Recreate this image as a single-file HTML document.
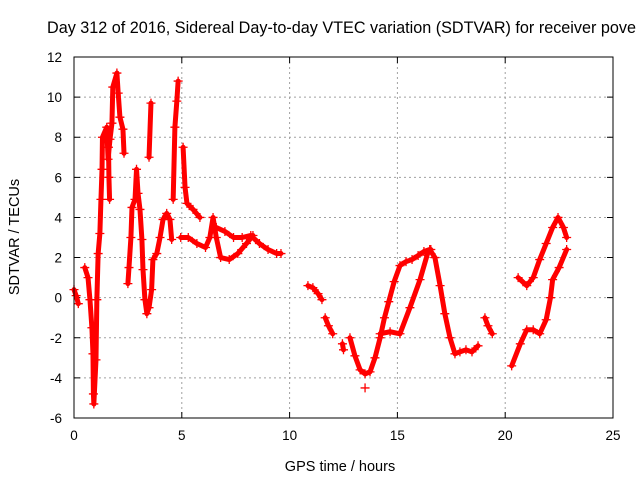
<!DOCTYPE html>
<html><head><meta charset="utf-8"><style>
body{margin:0;background:#fff;}
svg{display:block;font-family:"Liberation Sans",sans-serif;}
</style></head><body>
<svg id="chart" width="640" height="480" viewBox="0 0 640 480" xmlns="http://www.w3.org/2000/svg">
<rect width="640" height="480" fill="#fff"/>
<text x="47" y="33" font-size="16.2">Day 312 of 2016, Sidereal Day-to-day VTEC variation (SDTVAR) for receiver pove</text>
<g id="grid"></g><g id="ticks"></g><g id="marks"></g>
<rect x="74" y="57" width="539" height="361" fill="none" stroke="#000" stroke-width="1"/>
<text transform="translate(19,237) rotate(-90)" text-anchor="middle" font-size="14.5">SDTVAR / TECUs</text>
<text x="340" y="471" text-anchor="middle" font-size="14.5">GPS time / hours</text>
</svg>
<script>
const xTicks=[0,5,10,15,20,25];
const yTicks=[-6,-4,-2,0,2,4,6,8,10,12];
const segTimes=[
[0,0.1,0.2],
[0.5,0.65,0.74,0.83,0.88,0.9,0.92,1.02,1.06,1.12,1.2,1.25,1.3,1.32,1.52,1.58,1.67,1.76,1.8,1.99,2.05,2.13,2.27,2.32],
[1.6,1.62,1.65],
[2.5,2.55,2.64,2.69,2.83,2.9,2.97,3.06,3.15,3.2,3.29,3.38,3.48,3.6,3.66,3.84,3.99,4.13,4.3,4.45,4.53],
[3.48,3.57],
[4.6,4.68,4.77,4.83],
[5.06,5.15,5.24,5.52,5.84],
[4.95,5.3,5.7,6.1,6.3,6.45,6.6,6.8,7.2,7.6,8.0,8.3],
[6.6,7.0,7.4,7.8,8.2,8.6,9.0,9.4,9.6],
[10.85,11.08,11.32,11.5],
[11.65,11.8,12.0],
[12.45,12.5],
[12.8,13.03,13.27,13.5,13.73,13.96,14.2,14.4,14.6,14.85,15.12,15.4,15.68,15.96,16.23,16.5,16.74,16.98,17.2,17.44,17.67,17.9,18.18,18.46,18.74],
[13.5],
[14.2,14.66,15.12,15.58,16.05,16.4,16.55],
[19.06,19.2,19.4],
[20.3,20.7,21.0,21.3,21.6,21.9,22.1,22.2,22.5,22.85],
[20.6,21.0,21.3,21.6,21.9,22.2,22.45,22.7,22.85]
];
const segValues=[
[0.4,0.1,-0.3],
[1.5,1.0,-0.1,-1.5,-2.8,-4.8,-5.3,-3.1,-0.1,2.2,3.2,4.9,6.4,8.0,8.5,6.9,7.9,8.7,10.5,11.2,10.2,9.0,8.4,7.2],
[7.5,6.0,4.9],
[0.7,1.5,3.0,4.5,4.9,6.4,5.2,4.4,2.9,1.4,-0.1,-0.8,-0.5,0.4,1.9,2.2,3.0,3.9,4.2,3.9,2.9],
[7.0,9.7],
[4.9,8.5,9.8,10.8],
[7.5,5.5,4.7,4.4,4.0],
[3.0,3.0,2.7,2.5,3.0,4.0,3.0,2.0,1.9,2.2,2.7,3.1],
[3.5,3.3,3.0,3.0,3.1,2.7,2.4,2.2,2.2],
[0.6,0.5,0.2,-0.1],
[-1.0,-1.4,-1.8],
[-2.3,-2.6],
[-2.0,-2.9,-3.6,-3.8,-3.7,-3.0,-2.0,-1.0,-0.2,0.8,1.6,1.8,1.9,2.1,2.3,2.4,2.0,0.6,-0.8,-2.0,-2.8,-2.7,-2.6,-2.7,-2.4],
[-4.5],
[-1.8,-1.7,-1.8,-0.5,0.9,2.2,2.4],
[-1.0,-1.4,-1.8],
[-3.4,-2.3,-1.6,-1.6,-1.8,-1.1,0.0,0.9,1.5,2.4],
[1.0,0.6,1.0,1.9,2.7,3.5,4.0,3.5,3.0]
];
const X0=74,X1=613,Y0=418,Y1=57,xMin=0,xMax=25,yMin=-6,yMax=12;
function sx(t){return X0+(t-xMin)/(xMax-xMin)*(X1-X0);}
function sy(v){return Y0-(v-yMin)/(yMax-yMin)*(Y0-Y1);}
const NS="http://www.w3.org/2000/svg";
function mk(tag,parent,attrs){const e=document.createElementNS(NS,tag);for(const k in attrs)e.setAttribute(k,attrs[k]);parent.appendChild(e);return e;}
const grid=document.getElementById('grid'),ticks=document.getElementById('ticks'),marks=document.getElementById('marks');
xTicks.forEach(t=>{
  const x=sx(t);
  if(t>xMin&&t<xMax){const g=mk('line',grid,{x1:x,x2:x,y1:Y1,y2:Y0,stroke:'#a0a0a0','stroke-dasharray':'2,3'});
  
  }
  const tk=mk('path',ticks,{d:`M${x},${Y0}v-6M${x},${Y1}v6`,stroke:'#000'});
  
  
  const l=mk('text',ticks,{x:x,y:Y0+22,'text-anchor':'middle','font-size':'13.5'});l.textContent=t;
  
  
});
yTicks.forEach(v=>{
  const y=sy(v);
  if(v>yMin&&v<yMax){const g=mk('line',grid,{x1:X0,x2:X1,y1:y,y2:y,stroke:'#a0a0a0','stroke-dasharray':'2,3'});
  
  }
  const tk=mk('path',ticks,{d:`M${X0},${y}h6M${X1},${y}h-6`,stroke:'#000'});
  
  
  const l=mk('text',ticks,{x:X0-12,y:y+5,'text-anchor':'end','font-size':'13.5'});l.textContent=v;
  
  
});
segTimes.forEach((ts,i)=>{
  const vs=segValues[i];
  const g=mk('g',marks,{});
  
  
  if(ts.length>1){
    const pts=ts.map((t,j)=>sx(t)+','+sy(vs[j])).join(' ');
    const pl=mk('polyline',g,{points:pts,fill:'none',stroke:'#f00','stroke-width':'5','stroke-linejoin':'round','stroke-linecap':'round'});
    
    
  }
  ts.forEach((t,j)=>{
    const x=sx(t),y=sy(vs[j]);
    const p=mk('path',g,{d:`M${x-4.5},${y}h9M${x},${y-4.5}v9`,stroke:'#f00','stroke-width':'1.3'});
    
    
  });
});
</script>
</body></html>
